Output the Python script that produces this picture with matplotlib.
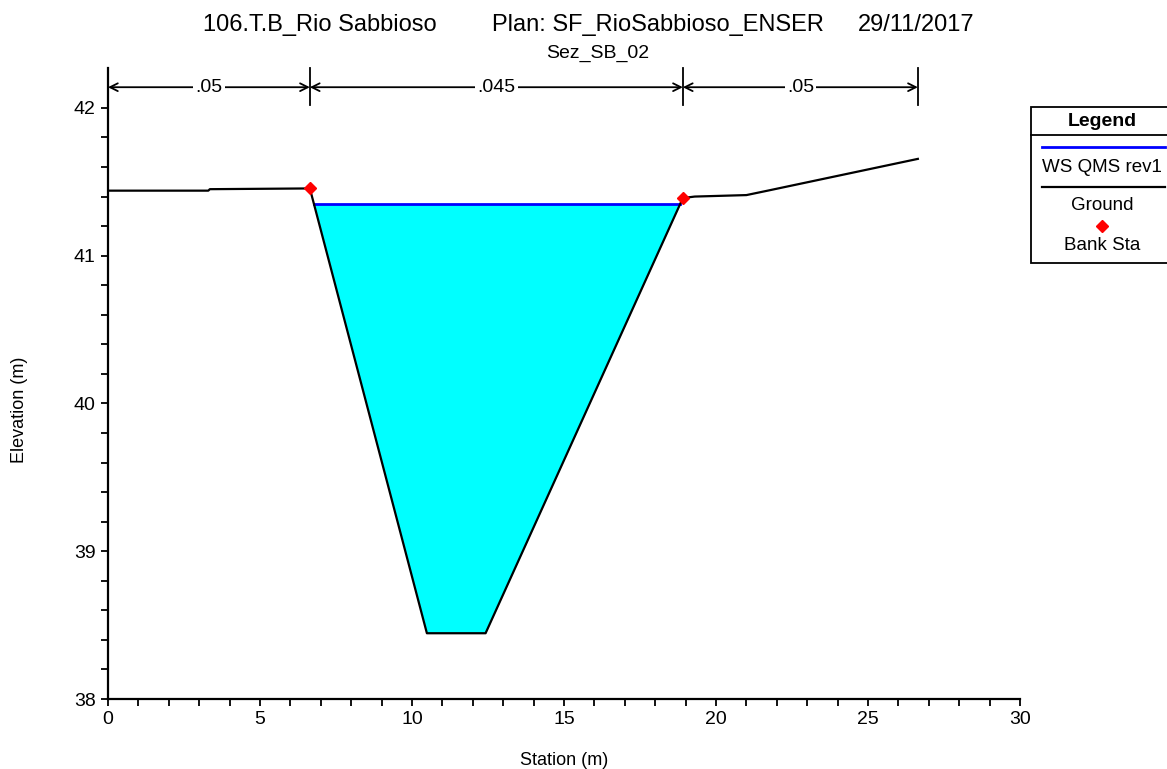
import matplotlib
matplotlib.use("Agg")
import matplotlib.pyplot as plt
import numpy as np
from matplotlib.lines import Line2D
from matplotlib.patches import Rectangle
from matplotlib.ticker import FixedLocator, MultipleLocator

plt.rcParams["font.family"] = ["Liberation Sans", "DejaVu Sans"]

# Cross-section geometry (station, elevation) in metres
station = [0.0, 3.3, 3.35, 6.64, 10.49, 12.42, 18.91, 19.3, 21.0, 21.7, 26.64]
elevation = [41.44, 41.44, 41.45, 41.455, 38.445, 38.445, 41.39, 41.40, 41.41, 41.44, 41.655]

bank_sta = [6.64, 18.91]
bank_elev = [41.455, 41.39]

ws_elev = 41.35

# Manning's n breaks and values
n_breaks = [0.0, 6.64, 18.91, 26.64]
n_labels = [".05", ".045", ".05"]

W, H = 1167, 769
fig = plt.figure(figsize=(W / 100, H / 100), dpi=100)
ax = fig.add_axes([108 / W, 1 - 699 / H, (1020 - 108) / W, (699 - 68) / H])

st = np.array(station)
el = np.array(elevation)

# water surface meets the channel banks where ground crosses ws_elev
li = 3
ri = 5
x_left = np.interp(ws_elev, [el[li + 1], el[li]], [st[li + 1], st[li]])
x_right = np.interp(ws_elev, [el[ri], el[ri + 1]], [st[ri], st[ri + 1]])

wx = np.concatenate([[x_left], st[(st > x_left) & (st < x_right)], [x_right]])
wy = np.concatenate([[ws_elev], el[(st > x_left) & (st < x_right)], [ws_elev]])
ax.fill_between(wx, wy, ws_elev, color="#00ffff", lw=0, zorder=1)
ax.plot([x_left, x_right], [ws_elev, ws_elev], color="#0000ff", lw=2, zorder=3)

ax.plot(station, elevation, color="black", lw=1.6, zorder=4)
ax.plot(bank_sta, bank_elev, "D", color="red", markersize=6, zorder=5)

# Manning's n segments along the top
y_top, y_bot, y_arr = 42.27, 42.02, 42.14
for xb in n_breaks:
    ax.plot([xb, xb], [y_bot, y_top], color="black", lw=1.3, clip_on=False, zorder=4)
for i, lab in enumerate(n_labels):
    x0, x1 = n_breaks[i], n_breaks[i + 1]
    ax.annotate("", xy=(x1, y_arr), xytext=(x0, y_arr),
                arrowprops=dict(arrowstyle="<->", lw=1.3, color="black",
                                shrinkA=0, shrinkB=0, mutation_scale=14))
    ax.text((x0 + x1) / 2, y_arr, lab, fontsize=14, ha="center", va="center",
            bbox=dict(facecolor="white", edgecolor="none", pad=1.5), zorder=6)

ax.set_xlim(0, 30)
ax.set_ylim(38, y_top)
ax.set_xticks(range(0, 31, 5))
ax.set_yticks(range(38, 43))
ax.xaxis.set_minor_locator(MultipleLocator(1))
ax.yaxis.set_minor_locator(FixedLocator(np.arange(38.0, 42.01, 0.2)))
ax.tick_params(which="both", direction="out", length=5, width=1.3, labelsize=14, pad=4)
for side in ("top", "right"):
    ax.spines[side].set_visible(False)
for side in ("left", "bottom"):
    ax.spines[side].set_linewidth(1.6)

ax.set_xlabel("Station (m)", fontsize=13)
ax.xaxis.set_label_coords(0.5, -0.084)
ax.set_ylabel("Elevation (m)", fontsize=13)
ax.yaxis.set_label_coords(-0.088, 0.458)

# titles
def fx(px):
    return px / W

def fy(py):
    return 1 - py / H

fig.text(fx(203), fy(25), "106.T.B_Rio Sabbioso", fontsize=17, ha="left", va="center")
fig.text(fx(492), fy(25), "Plan: SF_RioSabbioso_ENSER", fontsize=17, ha="left", va="center")
fig.text(fx(858), fy(25), "29/11/2017", fontsize=17, ha="left", va="center")
fig.text(fx(598), fy(53), "Sez_SB_02", fontsize=14, ha="center", va="center")

# legend box
fig.add_artist(Rectangle((fx(1031), fy(263)), fx(1175 - 1031), (263 - 107) / H,
                         transform=fig.transFigure, facecolor="white",
                         edgecolor="black", lw=1.3, clip_on=False))
fig.add_artist(Line2D([fx(1031), fx(1175)], [fy(135), fy(135)], color="black", lw=1.3))
fig.text(fx(1102), fy(121), "Legend", fontsize=14, fontweight="bold", ha="center", va="center")
fig.add_artist(Line2D([fx(1042), fx(1165)], [fy(147), fy(147)], color="#0000ff", lw=2))
fig.text(fx(1102), fy(168), "WS QMS rev1", fontsize=13.5, ha="center", va="center")
fig.add_artist(Line2D([fx(1042), fx(1165)], [fy(187), fy(187)], color="black", lw=1.6))
fig.text(fx(1102), fy(206), "Ground", fontsize=13.5, ha="center", va="center")
fig.add_artist(Line2D([fx(1102)], [fy(226)], marker="D", color="red", markersize=6, lw=0))
fig.text(fx(1102), fy(245), "Bank Sta", fontsize=13.5, ha="center", va="center")

fig.savefig("out.png", dpi=100)
